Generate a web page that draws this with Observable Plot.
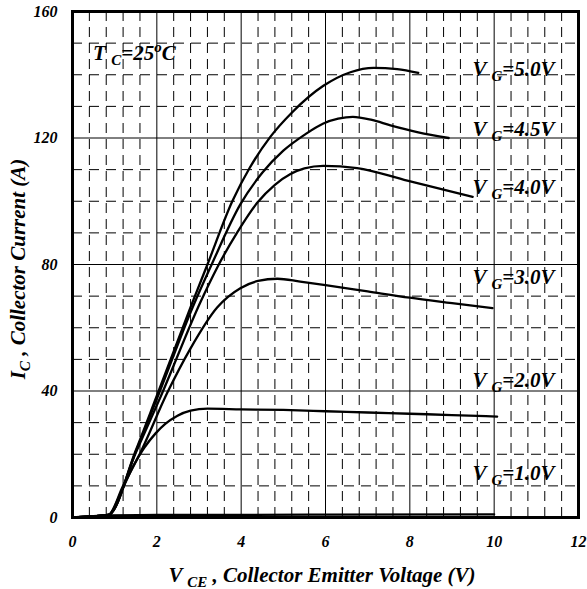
<!DOCTYPE html>
<html><head><meta charset="utf-8">
<script src="https://cdn.jsdelivr.net/npm/d3@7"></script>
<script src="https://cdn.jsdelivr.net/npm/@observablehq/plot@0.6"></script>
<style>body{margin:0;background:#fff}</style>
</head><body><div id="chart"></div>
<script>
// ---- data ----
const xTicks = [0, 2, 4, 6, 8, 10, 12];
const yTicks = [0, 40, 80, 120, 160];
const seriesNames = ["1.0", "2.0", "3.0", "4.0", "4.5", "5.0"];
const vg1 = [[0,0],[0.85,0.7],[2,0.8],[6,0.9],[10,1.0]];
const vg2 = [[0,0],[0.85,0.8],[1.2,9.5],[1.45,16.5],[1.7,22],[1.97,26.6],[2.2,29.6],[2.49,32.2],[2.8,33.8],[3.2,34.4],[4,34.2],[5,34],[6,33.6],[7,33.2],[8,32.8],[9,32.4],[10.07,31.9]];
const vg3 = [[0,0],[0.85,0.8],[1.2,10],[1.61,20.5],[2.25,39.5],[2.8,53.5],[3.43,66.4],[3.98,72.5],[4.4,74.8],[4.86,75.5],[5.4,74.6],[6,73.5],[7,71.5],[8,69.5],[9,67.8],[9.96,66.2]];
const vg4 = [[0,0],[0.85,0.8],[1.5,20.5],[2.1,38.5],[3.03,68],[3.43,79],[3.9,90],[4.38,99.5],[4.8,105.2],[5.17,108.6],[5.5,110.4],[5.95,111.2],[6.75,110.5],[7.94,106.5],[9.49,101.4]];
const vg45 = [[0,0],[0.85,0.8],[1.5,20.8],[2.05,39.2],[2.85,66.5],[3.3,80],[3.98,99],[4.5,109],[5.0,116],[5.5,121],[5.95,124.6],[6.3,126.1],[6.65,126.7],[7.1,125.7],[7.54,124],[8.2,121.8],[8.92,120]];
const vg5 = [[0,0],[0.85,0.8],[1.5,21.2],[2.0,38.5],[2.8,66.5],[3.2,80],[3.79,100],[4.2,110.5],[4.7,120.5],[5.2,128],[5.95,136.5],[6.59,140.8],[7.14,142.2],[7.7,141.8],[8.2,140.6]];
const labelX = [9.5, 9.5, 9.5, 9.5, 9.5, 9.5];
const labelY = [11.7, 41.1, 73.6, 102.2, 120.4, 139.6];
const tempLabel = {x: 0.5, y: 144.4};

const allSeries = [vg1, vg2, vg3, vg4, vg45, vg5];
const rows = allSeries.flatMap((s, k) => s.map(([v, i]) => ({vg: seriesNames[k], v, i})));
const minorX = d3.range(0, 12.001, 0.4).map(d => +d.toFixed(2)).filter(d => Math.abs(d/2 - Math.round(d/2)) > 1e-6);
const minorY = d3.range(0, 161, 10).filter(d => d % 40 !== 0);

const fam = "'Liberation Serif', 'Times New Roman', serif";
const plot = Plot.plot({
  width: 587, height: 589,
  marginLeft: 72, marginRight: 9, marginTop: 11, marginBottom: 72,
  x: {domain: [0, 12]},
  y: {domain: [0, 160]},
  style: {fontFamily: fam, fontSize: "16px", fontWeight: "bold", fontStyle: "italic", background: "#fff", color: "#000"},
  marks: [
    Plot.ruleX(minorX, {stroke: "#000", strokeWidth: 1, strokeDasharray: "10,6"}),
    Plot.ruleY(minorY, {stroke: "#000", strokeWidth: 1, strokeDasharray: "10,7"}),
    Plot.ruleX(xTicks, {stroke: "#000", strokeWidth: 1}),
    Plot.ruleY(yTicks, {stroke: "#000", strokeWidth: 1}),
    Plot.line(rows, {x: "v", y: "i", z: "vg", stroke: "#000", strokeWidth: 2.3, curve: "monotone-x"}),
    Plot.frame({stroke: "#000", strokeWidth: 3}),
    Plot.axisX({ticks: xTicks, tickSize: 0, tickPadding: 18, label: null}),
    Plot.axisY({ticks: yTicks, tickSize: 0, tickPadding: 15, label: null})
  ]
});
document.getElementById("chart").appendChild(plot);

const svg = d3.select(plot);
const sx = plot.scale("x"), sy = plot.scale("y");
function addText(x, y, parts, opts = {}) {
  const t = svg.append("text")
    .attr("x", x).attr("y", y)
    .attr("font-family", fam).attr("font-weight", "bold").attr("font-style", "italic")
    .attr("font-size", opts.size || 21).attr("fill", "#000")
    .attr("text-anchor", opts.anchor || "start");
  if (opts.transform) t.attr("transform", opts.transform);
  let shift = 0;
  for (const p of parts) {
    const ts = t.append("tspan").text(p.t);
    let target = p.sub ? 5 : p.sup ? -8 : 0;
    ts.attr("dy", target - shift);
    shift = target;
    if (p.sub || p.sup) ts.attr("font-size", 15);
  }
  return t;
}
seriesNames.forEach((n, k) => {
  addText(sx.apply(labelX[k]), sy.apply(labelY[k]), [{t: "V "}, {t: "G", sub: true}, {t: "=" + n + "V"}]);
});
addText(sx.apply(tempLabel.x), sy.apply(tempLabel.y), [{t: "T "}, {t: "C", sub: true}, {t: "=25"}, {t: "o", sup: true}, {t: "C"}]);
addText(322, 582, [{t: "V "}, {t: "CE", sub: true}, {t: " , Collector Emitter Voltage (V)"}], {anchor: "middle"});
addText(-269, 25, [{t: "I"}, {t: "C", sub: true}, {t: " , Collector Current (A)"}], {anchor: "middle", transform: "rotate(-90)"});
</script>
</body></html>
